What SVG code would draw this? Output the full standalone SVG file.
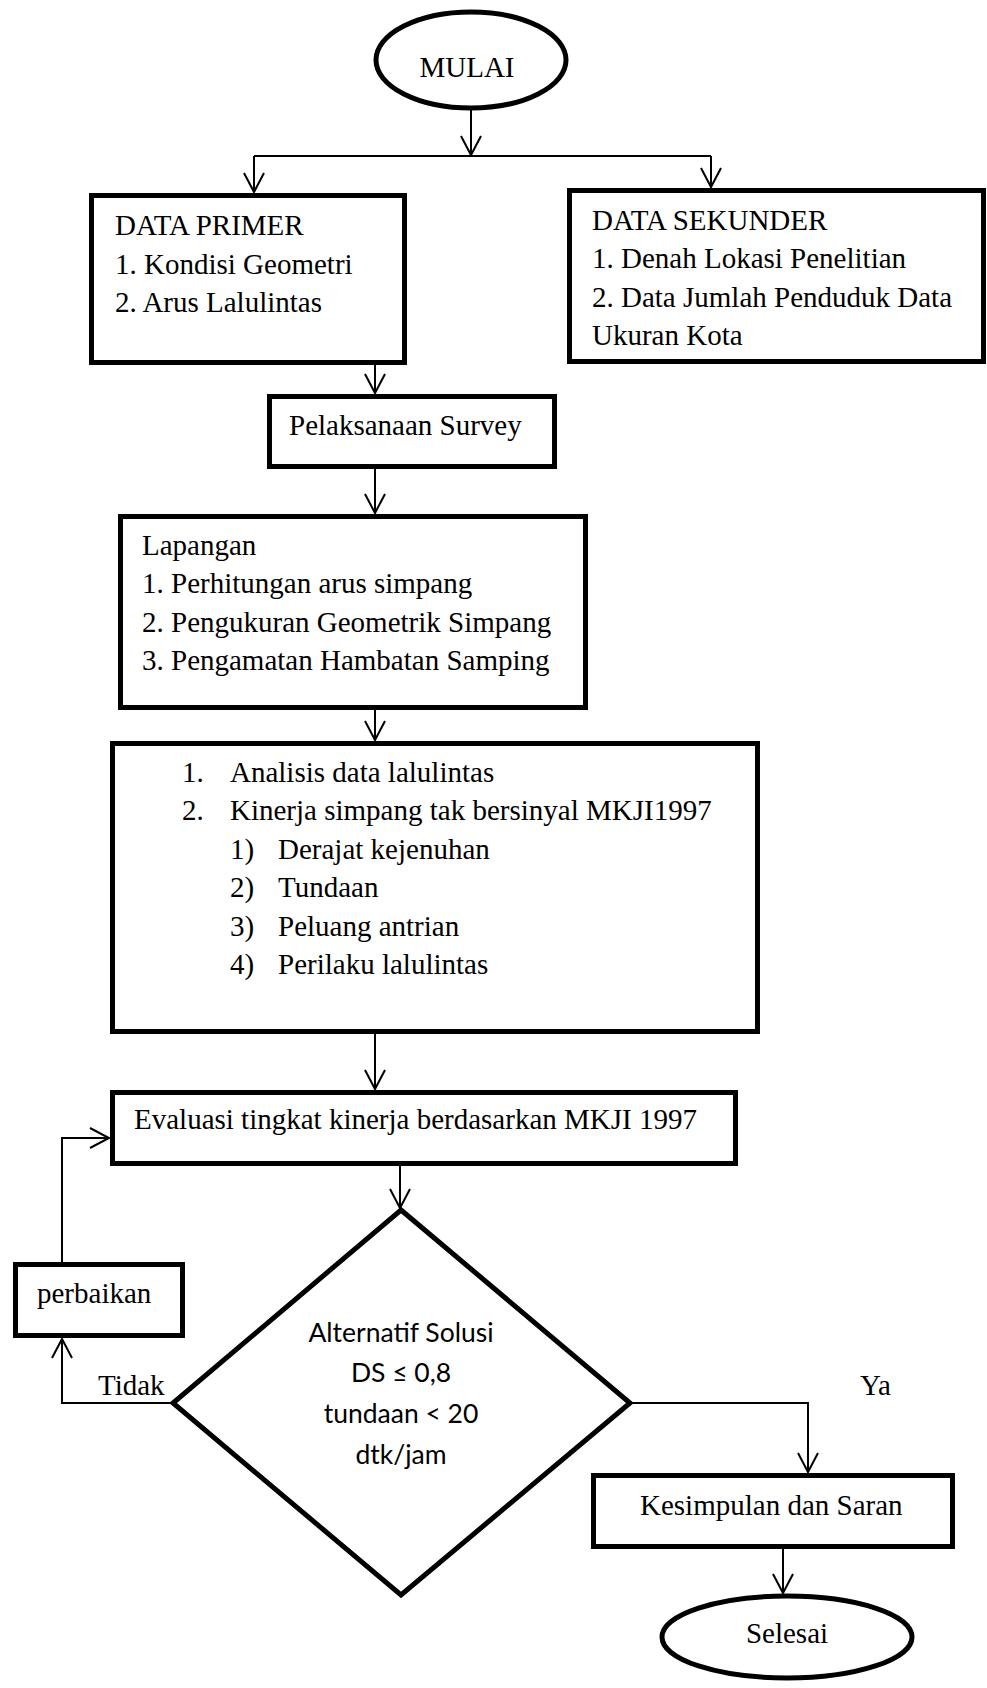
<svg xmlns="http://www.w3.org/2000/svg" width="987" height="1688" viewBox="0 0 987 1688">
<defs>
<style>
.box{fill:#fff;stroke:#000;stroke-width:5}
.t{font-family:"Liberation Serif","Times New Roman",serif;font-size:29px;fill:#000}
.s{font-family:Lato,"Open Sans",sans-serif;font-size:26.5px;fill:#000}
.c{fill:none;stroke:#000;stroke-width:2}
</style>
<marker id="arr" markerUnits="userSpaceOnUse" markerWidth="24" markerHeight="24" refX="20" refY="12" orient="auto">
<path d="M1,2 L20,12 L1,22" fill="none" stroke="#000" stroke-width="2"/>
</marker>
</defs>
<rect width="987" height="1688" fill="#fff"/>
<g id="connectors">
<path class="c" d="M471,108 V155" marker-end="url(#arr)"/>
<path class="c" d="M254,156 H711"/>
<path class="c" d="M254,156 V192" marker-end="url(#arr)"/>
<path class="c" d="M711,156 V187" marker-end="url(#arr)"/>
<path class="c" d="M375,365 V393" marker-end="url(#arr)"/>
<path class="c" d="M375,469 V513" marker-end="url(#arr)"/>
<path class="c" d="M375,710 V740" marker-end="url(#arr)"/>
<path class="c" d="M375,1034 V1089" marker-end="url(#arr)"/>
<path class="c" d="M400,1166 V1208" marker-end="url(#arr)"/>
<path class="c" d="M173,1403 H62 V1339" marker-end="url(#arr)"/>
<path class="c" d="M62,1262 V1138 H109" marker-end="url(#arr)"/>
<path class="c" d="M630,1403 H808 V1472" marker-end="url(#arr)"/>
<path class="c" d="M783,1549 V1593" marker-end="url(#arr)"/>
</g>
<g id="mulai">
<ellipse class="box" cx="471" cy="60" rx="95" ry="48"/>
<text class="t" x="467" y="77" text-anchor="middle">MULAI</text>
</g>
<g id="data-primer">
<rect class="box" x="91.5" y="195.5" width="313" height="167"/>
<text class="t" x="115" y="235">DATA PRIMER</text>
<text class="t" x="115" y="274">1. Kondisi Geometri</text>
<text class="t" x="115" y="312">2. Arus Lalulintas</text>
</g>
<g id="data-sekunder">
<rect class="box" x="569.5" y="190.5" width="414" height="171"/>
<text class="t" x="592" y="230">DATA SEKUNDER</text>
<text class="t" x="592" y="268">1. Denah Lokasi Penelitian</text>
<text class="t" x="592" y="307">2. Data Jumlah Penduduk Data</text>
<text class="t" x="592" y="345">Ukuran Kota</text>
</g>
<g id="pelaksanaan">
<rect class="box" x="269.5" y="396.5" width="285" height="70"/>
<text class="t" x="289" y="435">Pelaksanaan Survey</text>
</g>
<g id="lapangan">
<rect class="box" x="120.5" y="516.5" width="465" height="191"/>
<text class="t" x="142" y="555">Lapangan</text>
<text class="t" x="142" y="593">1. Perhitungan arus simpang</text>
<text class="t" x="142" y="632">2. Pengukuran Geometrik Simpang</text>
<text class="t" x="142" y="670">3. Pengamatan Hambatan Samping</text>
</g>
<g id="analisis">
<rect class="box" x="112.5" y="743.5" width="645" height="288"/>
<text class="t" x="182" y="782">1.</text>
<text class="t" x="230" y="782">Analisis data lalulintas</text>
<text class="t" x="182" y="820">2.</text>
<text class="t" x="230" y="820">Kinerja simpang tak bersinyal MKJI1997</text>
<text class="t" x="230" y="859">1)</text>
<text class="t" x="278" y="859">Derajat kejenuhan</text>
<text class="t" x="230" y="897">2)</text>
<text class="t" x="278" y="897">Tundaan</text>
<text class="t" x="230" y="936">3)</text>
<text class="t" x="278" y="936">Peluang antrian</text>
<text class="t" x="230" y="974">4)</text>
<text class="t" x="278" y="974">Perilaku lalulintas</text>
</g>
<g id="evaluasi">
<rect class="box" x="112.5" y="1092.5" width="623" height="71"/>
<text class="t" x="134" y="1129">Evaluasi tingkat kinerja berdasarkan MKJI 1997</text>
</g>
<g id="keputusan">
<polygon class="box" points="401,1210 630,1403 401,1595 173,1403"/>
<text class="s" x="401" y="1342" text-anchor="middle">Alternatif Solusi</text>
<text class="s" x="401" y="1382" text-anchor="middle">DS ≤ 0,8</text>
<text class="s" x="401" y="1423" text-anchor="middle">tundaan &lt; 20</text>
<text class="s" x="401" y="1464" text-anchor="middle">dtk/jam</text>
</g>
<g id="perbaikan">
<rect class="box" x="15.5" y="1264.5" width="167" height="71"/>
<text class="t" x="37" y="1303">perbaikan</text>
</g>
<g id="labels">
<text class="t" x="98" y="1395">Tidak</text>
<text class="t" x="860" y="1395">Ya</text>
</g>
<g id="kesimpulan">
<rect class="box" x="593.5" y="1475.5" width="359" height="71"/>
<text class="t" x="640" y="1515">Kesimpulan dan Saran</text>
</g>
<g id="selesai">
<ellipse class="box" cx="787" cy="1637" rx="125" ry="41"/>
<text class="t" x="787" y="1643" text-anchor="middle">Selesai</text>
</g>
</svg>
